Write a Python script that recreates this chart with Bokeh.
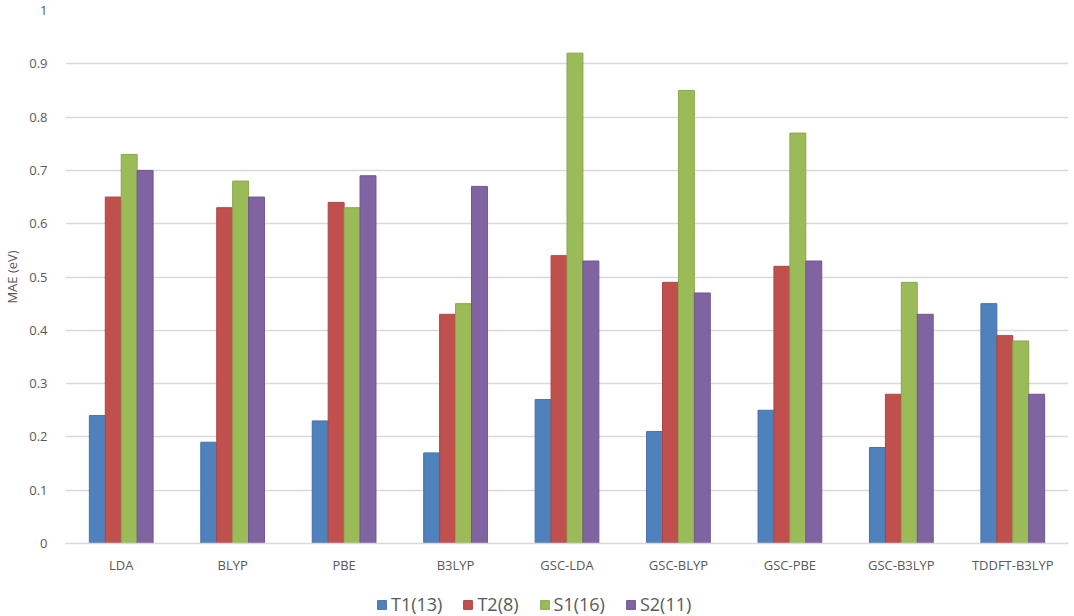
from bokeh.plotting import figure
from bokeh.models import FactorRange, Range1d, Legend, LegendItem, FixedTicker, ColumnDataSource
from bokeh.layouts import column
from bokeh.transform import dodge
from bokeh.embed import file_html
from bokeh.resources import INLINE

categories = ["LDA", "BLYP", "PBE", "B3LYP", "GSC-LDA", "GSC-BLYP", "GSC-PBE", "GSC-B3LYP", "TDDFT-B3LYP"]
t1 = [0.24, 0.19, 0.23, 0.17, 0.27, 0.21, 0.25, 0.18, 0.45]
t2 = [0.65, 0.63, 0.64, 0.43, 0.54, 0.49, 0.52, 0.28, 0.39]
s1 = [0.73, 0.68, 0.63, 0.45, 0.92, 0.85, 0.77, 0.49, 0.38]
s2 = [0.70, 0.65, 0.69, 0.67, 0.53, 0.47, 0.53, 0.43, 0.28]
series_names = ["T1(13)", "T2(8)", "S1(16)", "S2(11)"]
y_ticks = [0, 0.1, 0.2, 0.3, 0.4, 0.5, 0.6, 0.7, 0.8, 0.9, 1.0]
y_tick_labels = ["0", "0.1", "0.2", "0.3", "0.4", "0.5", "0.6", "0.7", "0.8", "0.9", "1"]

colors = ["#4F81BD", "#C0504D", "#9BBB59", "#8064A2"]
borders = ["#4572AA", "#AE4542", "#8AA94C", "#705692"]
FONT = "Open Sans"
GRAY = "#595959"

source = ColumnDataSource(data=dict(cat=categories, t1=t1, t2=t2, s1=s1, s2=s2))

p = figure(width=1070, height=589, x_range=FactorRange(*categories, range_padding=0),
           y_range=Range1d(0, 1.0), output_backend="svg", toolbar_location=None,
           min_border_left=61, min_border_right=2, min_border_top=10, min_border_bottom=46)
p.outline_line_color = None

offsets = [-0.2145, -0.0715, 0.0715, 0.2145]
keys = ["t1", "t2", "s1", "s2"]
for k, off, c, b in zip(keys, offsets, colors, borders):
    p.vbar(x=dodge("cat", off, range=p.x_range), top=k, width=0.143, source=source,
           fill_color=c, line_color=b, line_width=1)

p.yaxis.ticker = FixedTicker(ticks=y_ticks)
p.yaxis.major_label_overrides = {t: l for t, l in zip(y_ticks, y_tick_labels)}
p.yaxis.axis_line_color = None
p.yaxis.major_tick_line_color = None
p.yaxis.minor_tick_line_color = None
p.yaxis.major_label_text_font = FONT
p.yaxis.major_label_text_font_size = "13px"
p.yaxis.major_label_text_color = GRAY
p.yaxis.major_label_standoff = 12
p.yaxis.axis_label = "MAE (eV)"
p.yaxis.axis_label_text_font = FONT
p.yaxis.axis_label_text_font_size = "13px"
p.yaxis.axis_label_text_font_style = "normal"
p.yaxis.axis_label_text_color = GRAY
p.yaxis.axis_label_standoff = 5

p.xaxis.axis_line_color = "#D9D9D9"
p.xaxis.axis_line_width = 1.5
p.xaxis.major_tick_line_color = None
p.xaxis.minor_tick_line_color = None
p.xaxis.major_label_text_font = FONT
p.xaxis.major_label_text_font_size = "13px"
p.xaxis.major_label_text_color = GRAY
p.xaxis.major_label_standoff = 6

p.xgrid.grid_line_color = None
p.ygrid.grid_line_color = "#D9D9D9"
p.ygrid.grid_line_width = 1.5

# legend strip below the chart
lg = figure(width=1070, height=27, output_backend="svg", toolbar_location=None,
            x_range=Range1d(0, 1), y_range=Range1d(0, 1),
            x_axis_location=None, y_axis_location=None,
            min_border_left=0, min_border_right=0, min_border_top=0, min_border_bottom=0)
lg.outline_line_color = None
lg.xgrid.grid_line_color = None
lg.ygrid.grid_line_color = None
items = []
for n, c, b in zip(series_names, colors, borders):
    # placeholder renderer kept out of view, only used for the legend swatch
    r = lg.vbar(x=[0.5], top=[-2], bottom=[-3], width=0.01, fill_color=c, line_color=b)
    items.append(LegendItem(label=n, renderers=[r]))
legend = Legend(items=items, orientation="horizontal", location=(311, 0),
                label_text_font=FONT, label_text_font_size="18px", label_text_color=GRAY,
                glyph_width=11, glyph_height=11, spacing=20, label_standoff=4,
                border_line_color=None, background_fill_alpha=0, padding=0, margin=0)
lg.add_layout(legend, "center")

layout = column(p, lg, spacing=0)
open("out.html", "w").write(file_html(layout, INLINE))
